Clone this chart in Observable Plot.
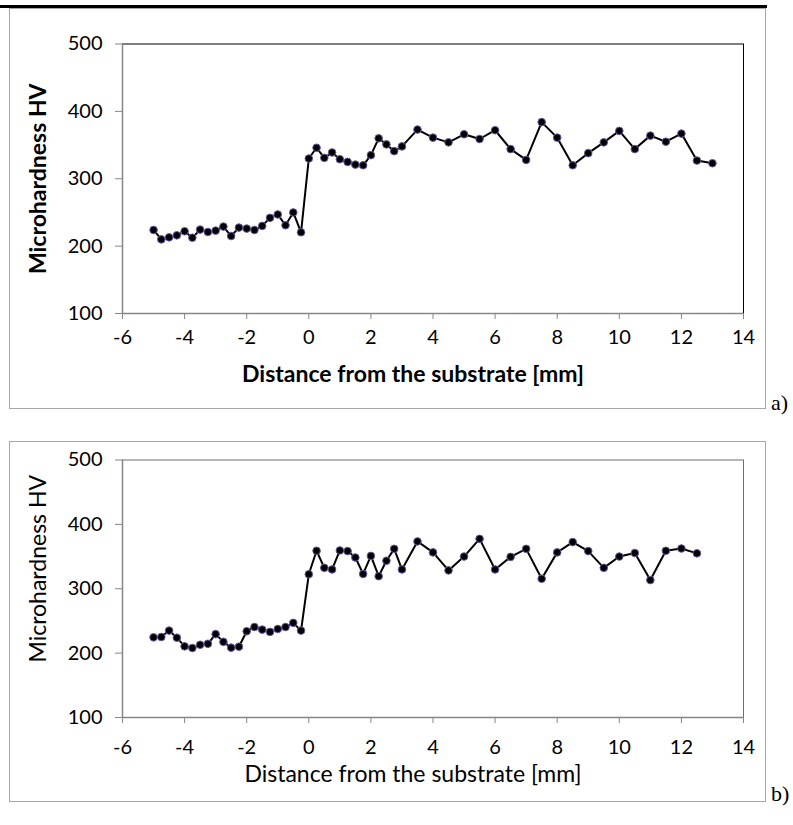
<!DOCTYPE html>
<html>
<head>
<meta charset="utf-8">
<script src="https://cdn.jsdelivr.net/npm/d3@7"></script>
<script src="https://cdn.jsdelivr.net/npm/@observablehq/plot@0.6"></script>
<style>
  html, body { margin: 0; padding: 0; background: #fff; }
  body { width: 793px; height: 825px; position: relative; overflow: hidden; }
  .rule { position: absolute; left: 0; top: 5px; width: 767px; height: 3px; background: #000; }
  .box { position: absolute; box-sizing: border-box; border: 1px solid #a6a6a6; background: #fff; }
  .box svg { display: block; }
  .tag { position: absolute; font-family: "Liberation Serif", serif; font-size: 22px; color: #000; }
</style>
</head>
<body>
<div class="rule"></div>
<div class="box" id="boxA" style="left:9px; top:8px; width:757px; height:401px;"></div>
<div class="tag" style="left:771px; top:390px;">a)</div>
<div class="box" id="boxB" style="left:9px; top:441px; width:757px; height:361px;"></div>
<div class="tag" style="left:771px; top:781px;">b)</div>
<script>
// ---- data ----
const xTicks = [-6, -4, -2, 0, 2, 4, 6, 8, 10, 12, 14];
const yTicks = [100, 200, 300, 400, 500];

const xA = [-5, -4.75, -4.5, -4.25, -4, -3.75, -3.5, -3.25, -3, -2.75, -2.5, -2.25, -2, -1.75, -1.5, -1.25, -1, -0.75, -0.5, -0.25,
            0, 0.25, 0.5, 0.75, 1, 1.25, 1.5, 1.75, 2, 2.25, 2.5, 2.75, 3,
            3.5, 4, 4.5, 5, 5.5, 6, 6.5, 7, 7.5, 8, 8.5, 9, 9.5, 10, 10.5, 11, 11.5, 12, 12.5, 13];
const hvA = [224, 210, 213, 216, 222, 212.5, 224.5, 221, 223, 229, 215, 227.5, 226, 224, 230, 242, 247, 231, 250, 220.5,
             330, 346, 331, 339, 329, 325, 321, 320, 335, 360, 351, 341, 348,
             373, 361, 354, 366, 359, 372, 344, 328, 384, 361, 320, 338, 354, 371, 344, 364, 355, 367, 327, 323];

const xB = [-5, -4.75, -4.5, -4.25, -4, -3.75, -3.5, -3.25, -3, -2.75, -2.5, -2.25, -2, -1.75, -1.5, -1.25, -1, -0.75, -0.5, -0.25,
            0, 0.25, 0.5, 0.75, 1, 1.25, 1.5, 1.75, 2, 2.25, 2.5, 2.75, 3,
            3.5, 4, 4.5, 5, 5.5, 6, 6.5, 7, 7.5, 8, 8.5, 9, 9.5, 10, 10.5, 11, 11.5, 12, 12.5];
const hvB = [224.5, 225, 235, 224, 210.5, 208, 213, 214.5, 229.5, 217.5, 208.5, 210, 234, 240.5, 236.5, 233, 237.5, 240.5, 247, 235,
             322.5, 359, 332.5, 330, 359.5, 358.5, 348.5, 323, 351, 319.5, 343.5, 362, 330,
             373.5, 356.5, 328.5, 350, 377.5, 330, 349.5, 362, 315.5, 356.5, 372.5, 358.5, 332.5, 350, 355.5, 313.5, 359, 362.5, 355];

const xTitle = "Distance from the substrate [mm]";
const yTitle = "Microhardness HV";

function chart(xs, ys, o) {
  const data = xs.map((x, i) => ({x, y: ys[i]}));
  const fmt = d => String(d);
  return Plot.plot({
    width: 755, height: o.height,
    marginLeft: 112, marginRight: 22, marginTop: o.mt, marginBottom: o.mb,
    style: {fontFamily: "Lato, 'Open Sans', sans-serif", fontSize: "20px", color: "#000", background: "transparent", overflow: "visible"},
    x: {domain: [-6, 14]},
    y: {domain: [100, 500]},
    marks: [
      Plot.frame({stroke: o.frame, strokeWidth: 1}),
      Plot.ruleY([100], {stroke: "#868686", strokeWidth: 1.5}),
      Plot.ruleX([-6], {stroke: "#868686", strokeWidth: 1.5}),
      Plot.axisX(xTicks, {tickSize: 6, tickPadding: o.xpad, stroke: "#868686", fill: "#000", label: null, fontSize: 20, tickFormat: fmt}),
      Plot.axisY(yTicks, {tickSize: 7, tickPadding: 13, stroke: "#868686", fill: "#000", label: null, fontSize: 20, tickFormat: fmt}),
      Plot.line(data, {x: "x", y: "y", stroke: "#000", strokeWidth: 2}),
      Plot.dot(data, {x: "x", y: "y", r: 3.8, fill: "#000", stroke: "#6a58a0", strokeWidth: 1}),
      Plot.text([xTitle], {frameAnchor: "bottom", dx: -20, dy: o.xdy, text: d => d, fontSize: 23, fontWeight: o.weight, fill: "#000"}),
      Plot.text([yTitle], {frameAnchor: "left", textAnchor: "middle", dx: -84, dy: o.ydy, rotate: -90, text: d => d, fontSize: 23, fontWeight: o.weight, fill: "#000"})
    ]
  });
}

document.getElementById("boxA").append(chart(xA, hvA, {height: 399, mt: 34.5, mb: 95, frame: "#000", weight: "bold", xpad: 10, xdy: 68, ydy: 0}));
document.getElementById("boxB").append(chart(xB, hvB, {height: 359, mt: 17.5, mb: 84, frame: "#6e6e6e", weight: "normal", xpad: 16, xdy: 64, ydy: -20}));
</script>
</body>
</html>
